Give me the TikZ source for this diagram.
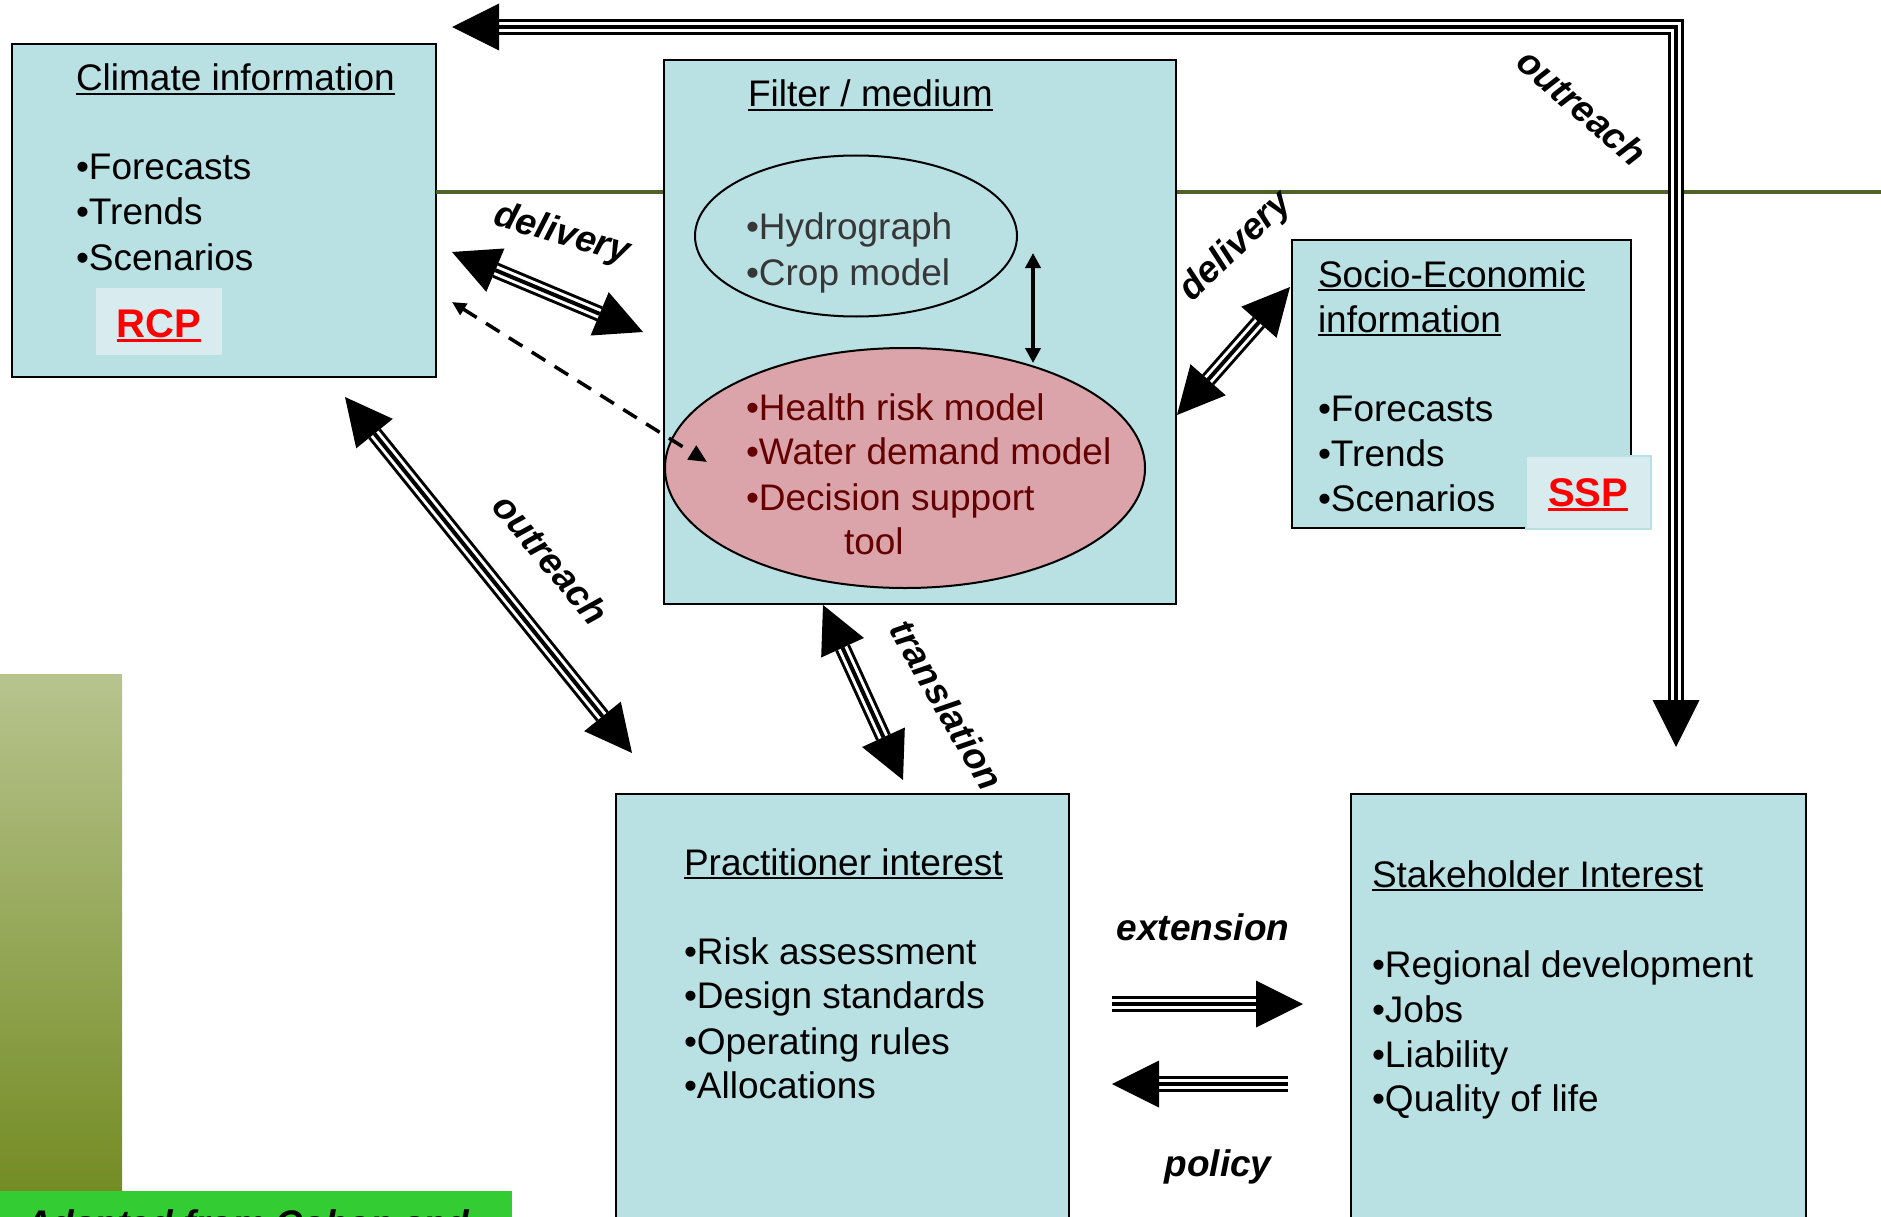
\documentclass[tikz,border=0pt]{standalone}
\usepackage{fontspec}
\setmainfont{Liberation Sans}
\usetikzlibrary{shapes.geometric,calc,arrows.meta}
\definecolor{boxfill}{RGB}{185,224,227}
\definecolor{lightfill}{RGB}{216,236,239}
\definecolor{redfill}{RGB}{219,163,170}
\definecolor{darkred}{RGB}{100,0,0}
\definecolor{graytext}{RGB}{55,55,55}
\definecolor{oliveline}{RGB}{79,98,40}
\definecolor{bartop}{RGB}{183,196,142}
\definecolor{barbot}{RGB}{116,140,36}
\definecolor{brightgreen}{RGB}{51,204,51}
\newcommand{\myul}[1]{\setbox0\hbox{#1}\rlap{\rule[-0.12em]{\wd0}{0.075em}}\box0}
\newcommand{\arrowtip}[2]{\fill ($(#1)!47pt!(#2)!23.5pt!90:(#1)$) -- (#1) -- ($(#1)!47pt!(#2)!23.5pt!-90:(#1)$) -- cycle;}
\tikzset{
  box/.style={draw=black, line width=2pt, fill=boxfill},
  t/.style={anchor=base west},
  lab/.style={font=\fontsize{37}{45}\selectfont\bfseries\itshape},
  triple/.style={draw=black, line width=16pt, line join=miter,
     postaction={draw=white, line width=10pt},
     postaction={draw=black, line width=4pt}},
}
\begin{document}
\begin{tikzpicture}[x=1pt,y=-1pt, font=\fontsize{37}{45}\selectfont,
  every node/.style={inner sep=0pt, outer sep=0pt}]
\useasboundingbox (0,0) rectangle (1881,1217);
\clip (0,0) rectangle (1881,1217);

% decoration
\shade[top color=bartop, bottom color=barbot] (0,674) rectangle (122,1191);
\fill[brightgreen] (0,1191) rectangle (512,1217);
\node[t, lab] (src) at (25,1236) {Adapted from Cobon and};

% boxes
\node[box, minimum width=424pt, minimum height=333pt] (climate) at (224,210.5) {};
\draw[oliveline, line width=4pt] (climate.east |- 0,192) -- (1881,192);
\node[box, minimum width=512pt, minimum height=544pt] (filter) at (920,332) {};
\node[box, minimum width=339pt, minimum height=288pt] (socio) at (1461.5,384) {};
\node[box, minimum width=453pt, minimum height=446pt] (pract) at (842.5,1017) {};
\node[box, minimum width=455pt, minimum height=446pt] (stake) at (1578.5,1017) {};
\node[fill=lightfill, minimum width=126pt, minimum height=67pt] (rcpbox) at (159,321.5) {};
\node[fill=lightfill, draw=boxfill, line width=2pt, minimum width=125pt, minimum height=73pt] (sspbox) at (1588.5,492.5) {};

% ellipses
\node[ellipse, draw=black, line width=2pt, minimum width=322pt, minimum height=161pt] (hydro) at (856,236) {};
\node[ellipse, draw=black, line width=2pt, fill=redfill, minimum width=480pt, minimum height=240pt] (health) at (905,468) {};

% climate text
\node[t] (ct) at (76,91) {\myul{Climate information}};
\node[t] (c1) at (76,180) {•Forecasts};
\node[t] (c2) at (76,225) {•Trends};
\node[t] (c3) at (76,270) {•Scenarios};
\node[font=\fontsize{40}{45}\selectfont\bfseries, text=red] (rcp) at (159,326) {\myul{RCP}};

% filter text
\node[t] (ft) at (748,107) {\myul{Filter / medium}};
\node[t, text=graytext] (h1) at (746,240) {•Hydrograph};
\node[t, text=graytext] (h2) at (746,285) {•Crop model};
\node[t, text=darkred] (r1) at (746,420) {•Health risk model};
\node[t, text=darkred] (r2) at (746,464) {•Water demand model};
\node[t, text=darkred] (r3) at (746,510) {•Decision support};
\node[t, text=darkred] (r4) at (844,554) {tool};

% socio text
\node[t] (st1) at (1318,287) {\myul{Socio-Economic}};
\node[t] (st2) at (1318,332) {\myul{information}};
\node[t] (s1) at (1318,421) {•Forecasts};
\node[t] (s2) at (1318,466) {•Trends};
\node[t] (s3) at (1318,511) {•Scenarios};
\node[font=\fontsize{40}{45}\selectfont\bfseries, text=red] (ssp) at (1588,495) {\myul{SSP}};

% practitioner text
\node[t] (pt) at (684,875) {\myul{Practitioner interest}};
\node[t] (p1) at (684,964) {•Risk assessment};
\node[t] (p2) at (684,1008) {•Design standards};
\node[t] (p3) at (684,1054) {•Operating rules};
\node[t] (p4) at (684,1098) {•Allocations};

% stakeholder text
\node[t] (kt) at (1372,887) {\myul{Stakeholder Interest}};
\node[t] (k1) at (1372,977) {•Regional development};
\node[t] (k2) at (1372,1022) {•Jobs};
\node[t] (k3) at (1372,1067) {•Liability};
\node[t] (k4) at (1372,1111) {•Quality of life};

% arrow end points
\coordinate (dl1) at (452,252);  \coordinate (dl2) at (643,332);
\coordinate (dr1) at (1177,415); \coordinate (dr2) at (1290,287);
\coordinate (ol1) at (345,397);  \coordinate (ol2) at (632,753);
\coordinate (tr1) at (823,605);  \coordinate (tr2) at (903,780);
\coordinate (ta) at (452,27);    \coordinate (tc) at (1676,27);  \coordinate (tb) at (1676,747);
\coordinate (e1) at (1112,1004); \coordinate (e2) at (1303,1004);
\coordinate (q1) at (1288,1084); \coordinate (q2) at (1112,1084);
\coordinate (d1) at (452,302);   \coordinate (d2) at (707,462);
\coordinate (v1) at (1033,253);  \coordinate (v2) at (1033,363);

% triple arrows
\draw[triple, shorten <=47pt, shorten >=47pt] (dl1) -- (dl2);
\arrowtip{dl1}{dl2} \arrowtip{dl2}{dl1}
\draw[triple, shorten <=47pt, shorten >=47pt] (dr1) -- (dr2);
\arrowtip{dr1}{dr2} \arrowtip{dr2}{dr1}
\draw[triple, shorten <=47pt, shorten >=47pt] (ol1) -- (ol2);
\arrowtip{ol1}{ol2} \arrowtip{ol2}{ol1}
\draw[triple, shorten <=47pt, shorten >=47pt] (tr1) -- (tr2);
\arrowtip{tr1}{tr2} \arrowtip{tr2}{tr1}
\draw[triple, shorten <=47pt, shorten >=47pt] (ta) -- (tc) -- (tb);
\arrowtip{ta}{tc} \arrowtip{tb}{tc}
\draw[triple, shorten >=47pt] (e1) -- (e2);
\arrowtip{e2}{e1}
\draw[triple, shorten >=47pt] (q1) -- (q2);
\arrowtip{q2}{q1}

% thin arrows
\draw[line width=3.5pt, dash pattern=on 16pt off 11pt,
  {Triangle[length=14pt,width=13pt]}-{Triangle[length=18pt,width=16pt]}] (d1) -- (d2);
\draw[line width=4pt, {Triangle[length=15pt,width=15pt]}-{Triangle[length=15pt,width=15pt]}] (v1) -- (v2);

% labels
\node[lab, rotate=-16] (ldl) at (562,235) {delivery};
\node[lab, rotate=44] (ldr) at (1236,247) {delivery};
\node[lab, rotate=-41] (lot) at (1582,107) {outreach};
\node[lab, rotate=-50] (lol) at (551,559) {outreach};
\node[lab, rotate=-60] (ltr) at (947,705) {translation};
\node[lab] (lex) at (1203,927) {extension};
\node[lab] (lpo) at (1218,1167) {policy};
\end{tikzpicture}
\end{document}
